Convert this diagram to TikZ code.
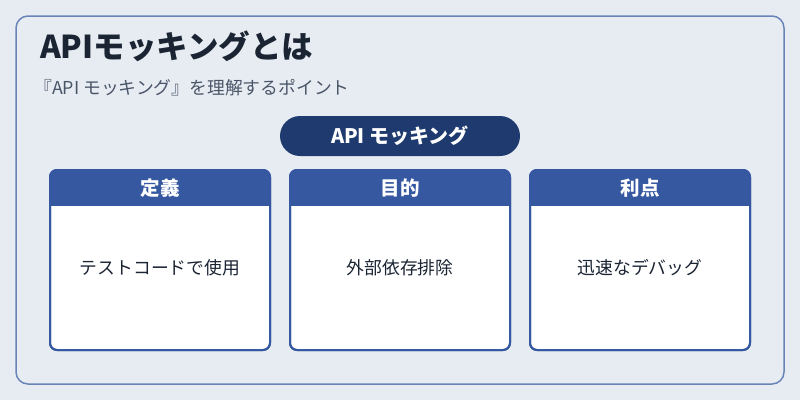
\documentclass[tikz,border=0pt]{standalone}
\usepackage{fontspec}
\setmainfont{Noto Sans CJK JP}
\begin{document}
\begin{tikzpicture}[x=1pt,y=-1pt,
  card/.style={draw=cardblue,line width=2pt,fill=white,rounded corners=7pt},
  hdr/.style={fill=cardblue},
  htext/.style={text=white,font=\fontsize{19.5}{22}\selectfont\bfseries},
  btext/.style={text=textdark,font=\fontsize{17.8}{20}\selectfont}]
\definecolor{bg}{HTML}{E6ECF2}
\definecolor{frame}{HTML}{6A84B8}
\definecolor{cardblue}{HTML}{3558A0}
\definecolor{navy}{HTML}{1E3A6E}
\definecolor{textdark}{HTML}{1A2433}
\definecolor{subgray}{HTML}{4A5568}
\useasboundingbox (0,0) rectangle (800,400);
\fill[bg] (0,0) rectangle (800,400);
\draw[frame,line width=1.5pt,rounded corners=12pt,fill=bg] (16,16) rectangle (784,384);
\node[anchor=west,inner sep=0pt,text=textdark,font=\fontsize{31.5}{34}\selectfont\bfseries] (title) at (40,46) {APIモッキングとは};
\node[anchor=west,inner sep=0pt,text=subgray,font=\fontsize{17.8}{20}\selectfont] (sub) at (34,88) {『API モッキング』を理解するポイント};
\fill[navy,rounded corners=20pt] (280,116) rectangle (520,156);
\node[text=white,font=\fontsize{20}{22}\selectfont\bfseries] (pill) at (400,136) {API モッキング};
\foreach \x/\h/\b/\n in {50/定義/テストコードで使用/a,290/目的/外部依存排除/b,530/利点/迅速なデバッグ/c}{
  \draw[card] (\x,170) rectangle (\x+220,350);
  \begin{scope}
    \clip[rounded corners=7pt] (\x,170) rectangle (\x+220,350);
    \fill[hdr] (\x,170) rectangle (\x+220,206);
  \end{scope}
  \draw[cardblue,line width=2pt,rounded corners=7pt] (\x,170) rectangle (\x+220,350);
  \node[htext] (h\n) at (\x+110,188) {\h};
  \node[btext] (b\n) at (\x+110,268) {\b};
}
\end{tikzpicture}
\end{document}
